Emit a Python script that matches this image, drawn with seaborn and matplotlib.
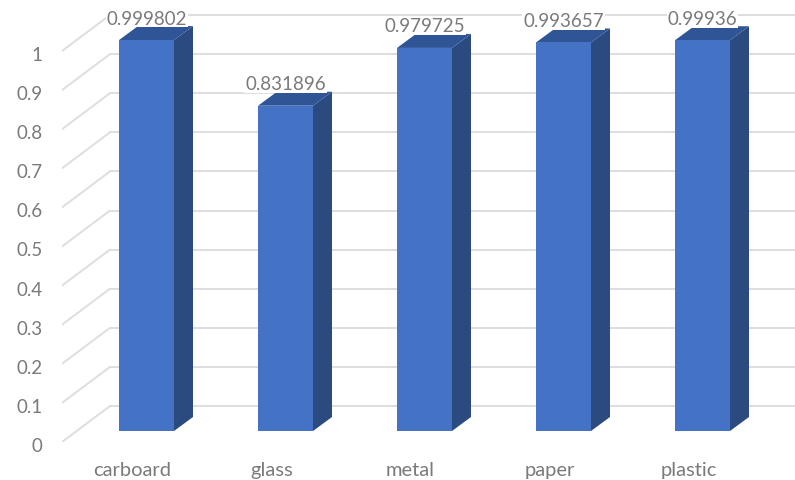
import matplotlib
matplotlib.use("Agg")
import matplotlib.pyplot as plt
from matplotlib.patches import Polygon
from matplotlib.transforms import ScaledTranslation
import pandas as pd
import seaborn as sns

categories = ["carboard", "glass", "metal", "paper", "plastic"]
accuracy = [0.999802, 0.831896, 0.979725, 0.993657, 0.99936]
y_ticks = [0, 0.1, 0.2, 0.3, 0.4, 0.5, 0.6, 0.7, 0.8, 0.9, 1]
y_tick_labels = ["0", "0.1", "0.2", "0.3", "0.4", "0.5", "0.6", "0.7", "0.8", "0.9", "1"]

FRONT, SIDE, TOP = "#4472C4", "#2A4A80", "#2F5597"
GRID, TEXT = "#DEDEDE", "#7A7A7A"

W, H = 795, 481
PX_X, PX_Y = 139.0, 391.0          # pixels per category / per unit of value
X0_PX, Y0_PX = 146.5, 432.0        # pixel position of first bar centre / of value 0
LEFT_PX, BOTTOM_PX = 62.0, 443.0   # front-left corner of the floor

sns.set_theme(style="white")
plt.rcParams["font.family"] = ["Lato", "DejaVu Sans"]

fig = plt.figure(figsize=(W / 100, H / 100), dpi=100)
ax = fig.add_axes([LEFT_PX / W, (H - BOTTOM_PX) / H, (W - LEFT_PX) / W, BOTTOM_PX / H])

df = pd.DataFrame({"category": categories, "accuracy": accuracy})
sns.barplot(data=df, x="category", y="accuracy", order=categories, color=FRONT,
            saturation=1, width=55 / PX_X, linewidth=0, ax=ax, zorder=5)

ax.set_xlim((LEFT_PX - X0_PX) / PX_X, (W - X0_PX) / PX_X)
ax.set_ylim((Y0_PX - BOTTOM_PX) / PX_Y, Y0_PX / PX_Y)

# Back wall and left wall of the pseudo-3D plot box
wall_dx, wall_dy = 48 / PX_X, 36 / PX_Y
floor_x = (LEFT_PX - X0_PX) / PX_X
floor_dy = (BOTTOM_PX - Y0_PX) / PX_Y
for v in y_ticks:
    y_front = v - floor_dy
    ax.plot([floor_x, floor_x + wall_dx], [y_front, y_front + wall_dy],
            color=GRID, lw=1.4, zorder=1, solid_capstyle="round")
    ax.plot([floor_x + wall_dx, (W - X0_PX) / PX_X], [y_front + wall_dy] * 2,
            color=GRID, lw=1.4, zorder=1)

# Extrude each bar with a side face and a top face
half = 55 / PX_X / 2
dx, dy = 19 / PX_X, 14 / PX_Y
for i, v in enumerate(accuracy):
    ax.add_patch(Polygon([(i + half, 0), (i + half + dx, dy), (i + half + dx, v + dy), (i + half, v)],
                         closed=True, fc=SIDE, ec="none", zorder=4))
    ax.add_patch(Polygon([(i - half, v), (i + half, v), (i + half + dx, v + dy), (i - half + dx, v + dy)],
                         closed=True, fc=TOP, ec="none", zorder=4))
    ax.text(i, v + 22 / PX_Y, str(v), ha="center", va="center", fontsize=13.5, color=TEXT, zorder=6,
            bbox=dict(fc="white", ec="none", pad=0.5))

ax.set_xlabel("")
ax.set_ylabel("")
ax.set_yticks(y_ticks, y_tick_labels)
ax.tick_params(axis="y", length=0, pad=14, labelsize=13.5, labelcolor=TEXT)
ax.tick_params(axis="x", length=0, pad=14, labelsize=14.5, labelcolor=TEXT)
sns.despine(ax=ax, left=True, bottom=True)

# Tick labels sit on the front edge of the floor, not at the back of the bars
for lab in ax.get_yticklabels():
    lab.set_transform(lab.get_transform() + ScaledTranslation(0, -13 / 100, fig.dpi_scale_trans))
for lab in ax.get_xticklabels():
    lab.set_transform(lab.get_transform() + ScaledTranslation(-14 / 100, 0, fig.dpi_scale_trans))

fig.savefig("out.png", dpi=100, facecolor="white")
